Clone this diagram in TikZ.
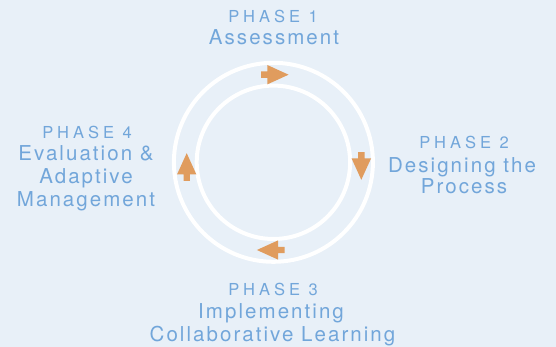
\documentclass[tikz,border=0pt]{standalone}
\usepackage{fontspec}
\setmainfont{TeX Gyre Heros}
\newfontfamily\phasefont[LetterSpace=24]{TeX Gyre Heros}
\newfontfamily\titlefont[LetterSpace=10]{TeX Gyre Heros}
\definecolor{bgblue}{HTML}{E8F0F8}
\definecolor{textblue}{HTML}{72A6DA}
\definecolor{arroworange}{HTML}{E09C5E}
\tikzset{
  ring/.style={draw=white,line width=4pt},
  phaselbl/.style={text=textblue,font=\phasefont\fontsize{16.5}{16.5}\selectfont,anchor=base,inner sep=0pt},
  titlelbl/.style={text=textblue,font=\titlefont\fontsize{20.5}{20.5}\selectfont,anchor=base,inner sep=0pt},
  flowarrow/.pic={\fill[arroworange] (-13.6,-3.2) -- (-7.3,-3.2) -- (-7.3,-9.7) -- (14,0) -- (-7.3,9.7) -- (-7.3,3.2) -- (-13.6,3.2) -- cycle;}
}
\begin{document}
\begin{tikzpicture}[x=1pt,y=-1pt]
\fill[bgblue] (0,0) rectangle (556,347);
\useasboundingbox (0,0) rectangle (556,347);
\coordinate (c) at (273.4,162.3);
\draw[ring] (c) circle[radius=99.5pt];
\draw[ring] (c) circle[radius=76.7pt];
\pic (a1) at (274.6,74.7) {flowarrow};
\pic[rotate=-90] (a2) at (361.3,165.8) {flowarrow};
\pic[rotate=180] (a3) at (270.9,250) {flowarrow};
\pic[rotate=90] (a4) at (186.7,167.2) {flowarrow};
\node[phaselbl] (p1) at (273,22.3) {PHASE 1};
\node[titlelbl] (t1) at (274,44.3) {Assessment};
\node[phaselbl] (p2) at (464,149) {PHASE 2};
\node[titlelbl] (t2a) at (462,172.3) {Designing the};
\node[titlelbl] (t2b) at (464,194) {Process};
\node[phaselbl] (p3) at (273,295.7) {PHASE 3};
\node[titlelbl] (t3a) at (271,318.3) {Implementing};
\node[titlelbl] (t3b) at (272.5,341) {Collaborative Learning};
\node[phaselbl] (p4) at (87,138.7) {PHASE 4};
\node[titlelbl] (t4a) at (86,161) {Evaluation \&};
\node[titlelbl] (t4b) at (86,184) {Adaptive};
\node[titlelbl] (t4c) at (86,206.5) {Management};
\end{tikzpicture}
\end{document}
